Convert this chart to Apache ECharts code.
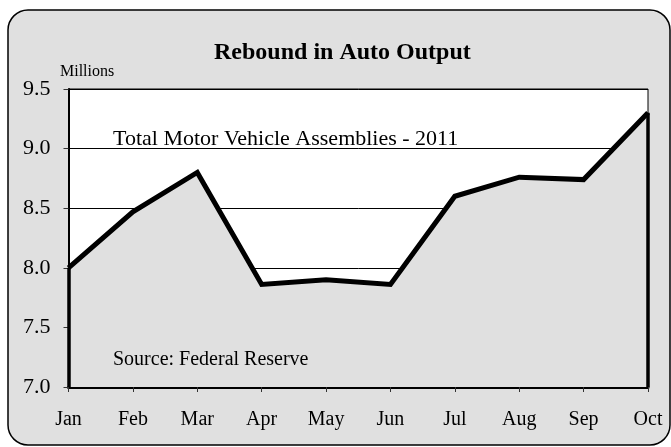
<!DOCTYPE html>
<html>
<head>
<meta charset="utf-8">
<script src="https://cdn.jsdelivr.net/npm/echarts@6/dist/echarts.min.js"></script>
<style>
  html, body { margin: 0; padding: 0; background: #fff; }
  #chart { width: 671px; height: 447px; }
</style>
</head>
<body>
<div id="chart"></div>
<script>
// months on the x axis
var months = ['Jan', 'Feb', 'Mar', 'Apr', 'May', 'Jun', 'Jul', 'Aug', 'Sep', 'Oct'];
// total motor vehicle assemblies, millions
var assemblies = [8.0, 8.47, 8.8, 7.86, 7.9, 7.86, 8.6, 8.76, 8.74, 9.3];
var yMin = 7.0, yMax = 9.5, yStep = 0.5;

var serif = '"Liberation Serif", "Times New Roman", serif';
var grayFill = '#e0e0e0';

var dom = document.getElementById('chart');
var chart = echarts.init(dom, null, { renderer: 'canvas' });

var option = {
    animation: false,
    backgroundColor: '#fff',
    graphic: [
        {
            type: 'rect',
            z: -100,
            silent: true,
            shape: { x: 8, y: 10, width: 662, height: 435, r: 20 },
            style: { fill: grayFill, stroke: '#000', lineWidth: 1.5 }
        },
        {
            type: 'text',
            left: 214,
            top: 41,
            style: { text: 'Rebound in Auto Output', font: 'bold 24px ' + serif, fill: '#000' }
        },
        {
            type: 'text',
            left: 60,
            top: 64,
            style: { text: 'Millions', font: '16px ' + serif, fill: '#000' }
        },
        {
            type: 'text',
            left: 113,
            top: 128,
            z: 10,
            style: { text: 'Total Motor Vehicle Assemblies - 2011', font: '22px ' + serif, fill: '#000' }
        },
        {
            type: 'text',
            left: 113,
            top: 350,
            z: 10,
            style: { text: 'Source: Federal Reserve', font: '20px ' + serif, fill: '#000' }
        }
    ],
    grid: {
        left: 68.5,
        right: 23,
        top: 89,
        bottom: 60,
        show: true,
        backgroundColor: '#fff',
        borderColor: '#000',
        borderWidth: 1
    },
    xAxis: {
        type: 'category',
        boundaryGap: false,
        data: months,
        axisLine: { show: true, lineStyle: { color: '#000', width: 3 } },
        axisTick: { show: true, inside: false, length: 5, lineStyle: { color: '#333', width: 1 } },
        axisLabel: { color: '#000', fontFamily: serif, fontSize: 20, margin: 23 },
        splitLine: { show: false }
    },
    yAxis: {
        type: 'value',
        min: yMin,
        max: yMax,
        interval: yStep,
        axisLine: { show: true, lineStyle: { color: '#000', width: 2 } },
        axisTick: { show: true, inside: false, length: 5, lineStyle: { color: '#333', width: 1 } },
        axisLabel: {
            color: '#000', fontFamily: serif, fontSize: 22, margin: 18,
            formatter: function (v) { return v.toFixed(1); }
        },
        splitLine: { show: true, lineStyle: { color: '#000', width: 1 } }
    },
    series: [
        {
            name: 'Assemblies',
            type: 'line',
            data: assemblies,
            symbol: 'none',
            lineStyle: { color: '#000', width: 5, join: 'miter' },
            areaStyle: { color: grayFill, opacity: 1 },
            markLine: {
                silent: true,
                symbol: 'none',
                label: { show: false },
                lineStyle: { color: '#000', width: 3.5, type: 'solid' },
                data: [
                    [{ coord: [months[0], yMin] }, { coord: [months[0], assemblies[0]] }],
                    [{ coord: [months[months.length - 1], yMin] }, { coord: [months[months.length - 1], assemblies[assemblies.length - 1]] }]
                ]
            }
        }
    ]
};

chart.setOption(option);
</script>
</body>
</html>
